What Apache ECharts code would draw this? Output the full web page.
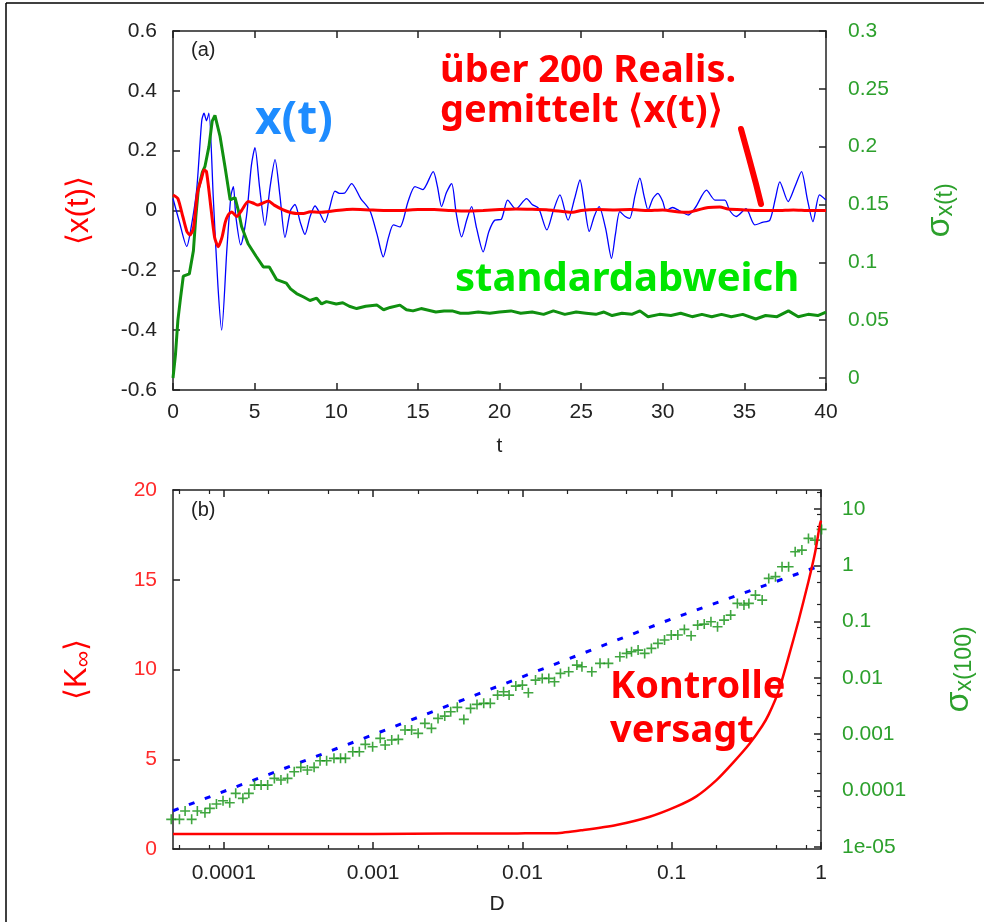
<!DOCTYPE html>
<html><head><meta charset="utf-8">
<script src="https://cdn.jsdelivr.net/npm/echarts@6/dist/echarts.min.js"></script>
<style>html,body{margin:0;padding:0;background:#fff}#c{width:984px;height:922px}</style>
</head><body><div id="c"></div>
<script>
// ---------- panel (a): time series ----------
const blueT = [0,0.4,0.84,1.1,1.45,1.76,1.9,2.05,2.2,2.47,2.75,2.98,3.3,3.55,3.7,3.85,4.15,4.5,4.8,5.02,5.3,5.63,5.95,6.25,6.55,6.86,7.2,7.47,7.8,8.08,8.4,8.7,9.0,9.3,9.6,9.92,10.2,10.5,10.94,11.5,12.06,12.5,12.88,13.2,13.5,13.9,14.4,14.82,15.3,15.94,16.2,16.45,16.75,17.07,17.35,17.68,18.0,18.29,18.6,19.0,19.35,19.72,20.1,20.5,21.0,21.66,22.0,22.4,22.9,23.3,23.7,24.2,24.6,24.93,25.2,25.5,25.8,26.1,26.5,26.86,27.1,27.37,27.7,27.98,28.3,28.6,28.85,29.1,29.4,29.7,30.0,30.2,30.6,31.0,31.56,32.0,32.68,33.2,33.8,34.1,34.5,35.1,35.64,36.1,36.56,36.9,37.17,37.68,38.1,38.5,38.85,39.2,39.6,40];
const blueX = [0.04,-0.04,-0.12,-0.06,0.07,0.30,0.325,0.30,0.325,0.04,-0.25,-0.40,-0.13,0.05,0.08,-0.02,-0.115,-0.02,0.15,0.21,0.08,-0.05,0.08,0.17,0.05,-0.09,0.0,0.02,-0.04,-0.08,-0.02,0.015,-0.01,-0.04,0.01,0.065,0.057,0.058,0.09,0.04,0.0,-0.08,-0.155,-0.09,-0.048,-0.055,0.03,0.08,0.07,0.13,0.08,0.013,0.06,0.09,-0.01,-0.088,-0.03,0.013,-0.06,-0.138,-0.07,-0.032,-0.03,0.035,0.005,0.04,0.02,0.007,-0.065,0.0,0.052,-0.032,0.04,0.102,0.02,-0.07,-0.02,0.013,-0.06,-0.16,-0.08,-0.004,-0.02,-0.026,0.05,0.108,0.05,0.002,0.04,0.057,0.03,0.0,0.01,0.0,-0.015,0.01,0.068,0.035,0.035,0.0,-0.02,0.006,-0.048,-0.04,-0.032,0.04,0.096,0.03,0.08,0.13,0.04,-0.037,0.052,0.035];

const redT = [0,0.3,0.6,0.85,1.04,1.25,1.5,1.76,1.9,2.05,2.3,2.55,2.77,3.0,3.2,3.38,3.6,3.9,4.2,4.6,4.9,5.2,5.5,5.84,6.2,6.75,7.1,7.56,8.0,8.4,9,10,11,12,13,14,15,16,17,18,19,20,21,22,23,24,24.5,25,26,27,28,29,30,31,31.6,32,32.8,33.5,34,35,36,37,38,39,40];
const redX = [0.052,0.04,-0.02,-0.07,-0.082,-0.06,0.06,0.11,0.135,0.13,0.02,-0.09,-0.121,-0.09,-0.04,-0.015,-0.005,-0.02,0.0,0.03,0.025,0.018,0.025,0.032,0.018,0.002,-0.005,-0.01,-0.01,-0.004,-0.006,0.0,0.004,0.002,0.0,0.0,0.003,0.003,0.0,-0.002,0.0,0.003,0.005,0.004,0.002,-0.004,-0.006,0.0,0.003,0.002,0.003,0.0,0.002,-0.005,-0.006,0.0,0.01,0.012,0.005,0.002,0.0,0.0,0.002,0.0,0.0];

const greenT = [0,0.15,0.3,0.45,0.63,1.0,1.25,1.4,1.55,1.8,1.96,2.2,2.4,2.57,2.88,3.18,3.5,3.8,4.0,4.2,4.6,5.1,5.53,5.9,6.35,6.94,7.2,7.57,8.0,8.39,8.8,9.1,9.4,10.0,10.4,10.8,11.25,11.8,12.5,12.9,13.3,13.9,14.3,14.7,15.2,16.1,16.6,17.1,17.6,18.1,18.7,19.4,20.0,20.7,21.3,22,22.7,23.3,24,24.7,25.3,25.9,26.4,26.9,27.5,28.1,28.6,29.1,29.8,30.5,31.1,31.8,32.4,33.0,33.6,34.2,34.9,35.7,36.3,37.0,37.7,38.3,38.9,39.5,40];
const greenSigma = [0.0,0.02,0.05,0.068,0.088,0.09,0.11,0.14,0.163,0.178,0.183,0.2,0.222,0.227,0.209,0.183,0.154,0.156,0.145,0.131,0.116,0.105,0.096,0.096,0.085,0.082,0.077,0.073,0.07,0.067,0.069,0.064,0.066,0.064,0.065,0.062,0.06,0.062,0.063,0.059,0.061,0.063,0.059,0.058,0.06,0.057,0.058,0.058,0.056,0.056,0.057,0.056,0.057,0.058,0.056,0.057,0.055,0.058,0.055,0.057,0.056,0.055,0.057,0.054,0.056,0.055,0.058,0.053,0.055,0.054,0.056,0.053,0.055,0.053,0.055,0.053,0.055,0.051,0.054,0.053,0.058,0.053,0.055,0.054,0.057];

// ---------- panel (b): values vs D (log10 units) ----------
const redLog10D = [-4.34,-4.0,-3.5,-3.0,-2.5,-2.033,-1.77,-1.59,-1.37,-1.147,-0.97,-0.837,-0.70,-0.59,-0.48,-0.394,-0.35,-0.284,-0.217,-0.151,-0.084,-0.04,-0.007,0];
const redK = [0.84,0.84,0.84,0.84,0.86,0.87,0.88,1.06,1.34,1.8,2.36,2.92,3.84,4.8,5.85,6.85,7.5,8.8,10.7,12.7,14.9,16.5,18.1,18.3];

const blueLog10D = [-4.34,-3,-2,-1,0];
const blueLog10Sigma = [-4.36,-3.01,-1.98,-0.95,0.0];

const greenLog10D = [-4.352,-4.297,-4.259,-4.215,-4.177,-4.126,-4.093,-4.049,-4.005,-3.960,-3.920,-3.872,-3.832,-3.794,-3.750,-3.706,-3.661,-3.617,-3.573,-3.528,-3.484,-3.440,-3.395,-3.355,-3.311,-3.262,-3.218,-3.185,-3.136,-3.092,-3.052,-3.003,-2.952,-2.919,-2.875,-2.831,-2.786,-2.742,-2.698,-2.653,-2.609,-2.565,-2.520,-2.480,-2.436,-2.392,-2.347,-2.304,-2.259,-2.215,-2.166,-2.126,-2.089,-2.044,-2.000,-1.960,-1.912,-1.867,-1.823,-1.785,-1.745,-1.690,-1.635,-1.601,-1.535,-1.480,-1.424,-1.347,-1.302,-1.269,-1.225,-1.181,-1.136,-1.092,-1.048,-1.003,-0.959,-0.915,-0.870,-0.826,-0.782,-0.737,-0.693,-0.649,-0.605,-0.560,-0.516,-0.483,-0.439,-0.394,-0.350,-0.305,-0.261,-0.217,-0.173,-0.128,-0.084,-0.040,0.004];
const greenLog10Sigma = [-4.513,-4.513,-4.366,-4.513,-4.366,-4.396,-4.318,-4.241,-4.183,-4.218,-4.051,-4.140,-4.051,-3.904,-3.904,-3.904,-3.785,-3.815,-3.785,-3.667,-3.589,-3.637,-3.589,-3.472,-3.472,-3.429,-3.429,-3.429,-3.312,-3.312,-3.181,-3.223,-3.074,-3.193,-3.104,-3.092,-2.926,-2.926,-2.985,-2.807,-2.896,-2.719,-2.678,-2.601,-2.523,-2.737,-2.541,-2.470,-2.452,-2.452,-2.305,-2.246,-2.305,-2.145,-2.127,-2.264,-2.038,-2.008,-2.008,-2.068,-1.919,-1.891,-1.772,-1.802,-1.891,-1.741,-1.741,-1.624,-1.564,-1.535,-1.505,-1.564,-1.475,-1.386,-1.327,-1.238,-1.238,-1.137,-1.249,-1.061,-1.043,-1.002,-1.091,-0.972,-0.883,-0.675,-0.705,-0.675,-0.528,-0.617,-0.231,-0.20,-0.025,-0.025,0.242,0.272,0.480,0.449,0.640];

// ---------- tick labels ----------
const topRightTicks = [0,0.05,0.1,0.15,0.2,0.25,0.3];
const bottomXTickExp = [-4,-3,-2,-1,0];
const bottomXTickLabels = ['0.0001','0.001','0.01','0.1','1'];
const rightYTickExp = [-5,-4,-3,-2,-1,0,1];
const rightYTickLabels = ['1e-05','0.0001','0.001','0.01','0.1','1','10'];

const zip = (a,b) => a.map((v,i)=>[v,b[i]]);
function minorLog(lo, hi){
  const out=[];
  for(let n=-6;n<=2;n++){ [2,5,8].forEach(m=>{const v=n+Math.log10(m); if(v>=lo&&v<=hi) out.push(v);}); }
  return out;
}
const XMIN=-4.34, XMAX=0, YRMIN=-5.04, YRMAX=1.34;

const FONT = '"Liberation Sans", Arial, sans-serif';
const AX = '#222';
const GREEN_LBL = '#2ca02c';
const GREEN = '#109010';
const lineAx = {show:true,onZero:false,lineStyle:{color:AX,width:1.5}};
const noLine = {show:false,onZero:false};
const major = {inside:true,length:7,lineStyle:{color:AX,width:1.5}};
const minorT = {inside:true,length:4,lineStyle:{color:AX,width:1.2}};
const lbl = (color, margin, extra) => Object.assign({color, fontSize:21, fontFamily:FONT, margin}, extra||{});
const nameStyle = (color,size) => ({color, fontSize:size, fontFamily:FONT});
const subTitle = (color, big, small, pad) => ({fontFamily:FONT,color,rich:{
  s:{fontSize:big,color,fontFamily:FONT},
  b:{fontSize:small,color,fontFamily:FONT,verticalAlign:'bottom',padding:[pad,0,0,0]}}});

const logFmt = (exps, labels) => v => { const i = exps.findIndex(e=>Math.abs(e-v)<1e-6); return i>=0?labels[i]:''; };

const option = {
  animation:false,
  backgroundColor:'#fff',
  grid:[
    {left:173, top:31, width:653, height:359},
    {left:173, top:490, width:653, height:359}
  ],
  xAxis:[
    {gridIndex:0,type:'value',position:'bottom',min:0,max:40,interval:5,axisLine:lineAx,axisTick:major,
     axisLabel:lbl(AX,12),splitLine:{show:false},
     name:'t',nameLocation:'middle',nameGap:46,nameTextStyle:nameStyle(AX,21)},
    {gridIndex:0,type:'value',position:'top',min:0,max:40,interval:5,axisLine:lineAx,axisTick:major,
     axisLabel:{show:false},splitLine:{show:false}},
    {gridIndex:1,type:'value',position:'bottom',min:XMIN,max:XMAX,axisLine:lineAx,
     axisTick:Object.assign({customValues:bottomXTickExp},major),
     axisLabel:lbl(AX,14,{customValues:bottomXTickExp,formatter:logFmt(bottomXTickExp,bottomXTickLabels)}),
     splitLine:{show:false},
     name:'D',nameLocation:'middle',nameGap:45,nameTextStyle:nameStyle(AX,21)},
    {gridIndex:1,type:'value',position:'bottom',min:XMIN,max:XMAX,axisLine:noLine,
     axisTick:Object.assign({customValues:minorLog(XMIN,XMAX)},minorT),axisLabel:{show:false},splitLine:{show:false}},
    {gridIndex:1,type:'value',position:'top',min:XMIN,max:XMAX,axisLine:lineAx,
     axisTick:Object.assign({customValues:bottomXTickExp},major),axisLabel:{show:false},splitLine:{show:false}},
    {gridIndex:1,type:'value',position:'top',min:XMIN,max:XMAX,axisLine:noLine,
     axisTick:Object.assign({customValues:minorLog(XMIN,XMAX)},minorT),axisLabel:{show:false},splitLine:{show:false}}
  ],
  yAxis:[
    {gridIndex:0,type:'value',position:'left',min:-0.6,max:0.6,interval:0.2,axisLine:lineAx,axisTick:major,
     axisLabel:lbl(AX,16),splitLine:{show:false},
     name:'⟨x(t)⟩',nameLocation:'middle',nameRotate:90,nameGap:78,nameTextStyle:nameStyle('#ff0000',31)},
    {gridIndex:0,type:'value',position:'right',min:-0.0104,max:0.3,axisLine:lineAx,
     axisTick:Object.assign({customValues:topRightTicks},major),
     axisLabel:lbl(GREEN_LBL,22,{customValues:topRightTicks}),splitLine:{show:false},
     name:'{s|σ}{b|x(t)}',nameLocation:'middle',nameRotate:90,nameGap:96,
     nameTextStyle:subTitle(GREEN_LBL,34,23,12)},
    {gridIndex:1,type:'value',position:'left',min:0,max:20,interval:5,axisLine:lineAx,axisTick:major,
     axisLabel:lbl('#ff2a2a',16),splitLine:{show:false},
     name:'{s|⟨K}{b|∞}{s|⟩}',nameLocation:'middle',nameRotate:90,nameGap:78,
     nameTextStyle:subTitle('#ff0000',31,23,12)},
    {gridIndex:1,type:'value',position:'right',min:YRMIN,max:YRMAX,axisLine:lineAx,
     axisTick:Object.assign({customValues:rightYTickExp},major),
     axisLabel:lbl(GREEN_LBL,21,{customValues:rightYTickExp,formatter:logFmt(rightYTickExp,rightYTickLabels)}),
     splitLine:{show:false},
     name:'{s|σ}{b|x(100)}',nameLocation:'middle',nameRotate:90,nameGap:120,
     nameTextStyle:subTitle(GREEN_LBL,34,23,12)},
    {gridIndex:1,type:'value',position:'right',min:YRMIN,max:YRMAX,axisLine:noLine,
     axisTick:Object.assign({customValues:minorLog(YRMIN,YRMAX)},minorT),axisLabel:{show:false},splitLine:{show:false}}
  ],
  series:[
    {type:'line',xAxisIndex:0,yAxisIndex:0,data:zip(blueT,blueX),showSymbol:false,smooth:0.25,
     lineStyle:{color:'#0000ff',width:1.3},z:2},
    {type:'line',xAxisIndex:0,yAxisIndex:1,data:zip(greenT,greenSigma),showSymbol:false,
     lineStyle:{color:GREEN,width:3},z:3},
    {type:'line',xAxisIndex:0,yAxisIndex:0,data:zip(redT,redX),showSymbol:false,smooth:0.2,
     lineStyle:{color:'#ff0000',width:3},z:4},
    {type:'line',xAxisIndex:2,yAxisIndex:2,data:zip(redLog10D,redK),showSymbol:false,smooth:0.2,
     lineStyle:{color:'#ff0000',width:2.5},z:4},
    {type:'line',xAxisIndex:2,yAxisIndex:3,data:zip(blueLog10D,blueLog10Sigma),showSymbol:false,smooth:false,
     lineStyle:{color:'#0000ff',width:3,type:[6,11]},z:2},
    {type:'scatter',xAxisIndex:2,yAxisIndex:3,data:zip(greenLog10D,greenLog10Sigma),clip:false,
     symbol:'path://M4.2,0h1.6v4.2h4.2v1.6h-4.2v4.2h-1.6v-4.2h-4.2v-1.6h4.2z',symbolSize:10,
     itemStyle:{color:GREEN},z:3}
  ],
  graphic:[
    {type:'line',shape:{x1:6,y1:3,x2:984,y2:3},style:{stroke:'#000',lineWidth:1.5},silent:true},
    {type:'line',shape:{x1:6,y1:3,x2:6,y2:922},style:{stroke:'#000',lineWidth:1.5},silent:true},
    {type:'text',left:191,top:40,style:{text:'(a)',font:'20px '+FONT,fill:'#222'}},
    {type:'text',left:191,top:500,style:{text:'(b)',font:'20px '+FONT,fill:'#222'}},
    {type:'text',left:440,top:52,style:{text:'über 200 Realis.',font:'bold 38px "Noto Sans"',fill:'#ff0000'}},
    {type:'text',left:440,top:92,style:{text:'gemittelt ⟨x(t)⟩',font:'bold 38px "Noto Sans"',fill:'#ff0000'}},
    {type:'polyline',shape:{points:[[741,129],[749,158],[756,184],[761,204]]},style:{stroke:'#ff0000',lineWidth:6,lineCap:'round',fill:null}},
    {type:'text',left:255,top:98,style:{text:'x(t)',font:'bold 46px "Noto Sans"',fill:'#1e8cff'}},
    {type:'text',left:455,top:260,style:{text:'standardabweich',font:'bold 40px "Noto Sans"',fill:'#00e600'}},
    {type:'text',left:610,top:668,style:{text:'Kontrolle',font:'bold 38px "Noto Sans"',fill:'#ff0000'}},
    {type:'text',left:610,top:712,style:{text:'versagt',font:'bold 38px "Noto Sans"',fill:'#ff0000'}}
  ]
};
echarts.init(document.getElementById('c')).setOption(option);
</script>
</body></html>
